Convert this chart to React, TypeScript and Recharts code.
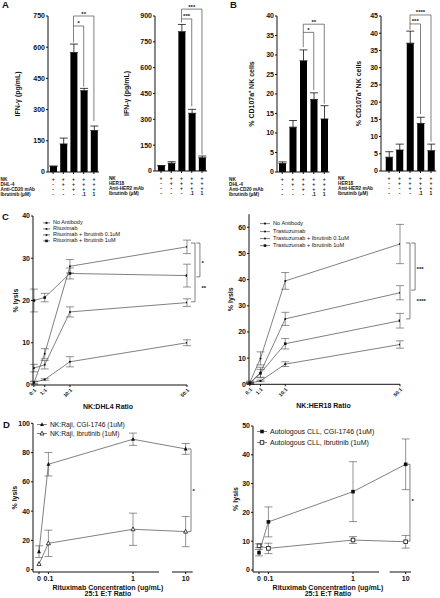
import React from 'react';
import {
  Bar,
  BarChart,
  ErrorBar,
  Legend,
  Line,
  LineChart,
  ReferenceDot,
  ReferenceLine,
  XAxis,
  YAxis,
} from 'recharts';

const FONT = '"Liberation Sans", Arial, Helvetica, sans-serif';
const INK = '#111';
const GREY = '#4a4a4a';

// ---- A / B: five conditions per bar panel
const barCats = ['1', '2', '3', '4', '5'];
const dhl4Rows = ['NK', 'DHL-4', 'Anti-CD20 mAb', 'Ibrutinib (\u03bcM)'];
const her18Rows = ['NK', 'HER18', 'Anti-HER2 mAb', 'Ibrutinib (\u03bcM)'];
const nkCells = ['+', '+', '+', '+', '+'];
const targetCells = ['-', '+', '+', '+', '+'];
const mabCells = ['-', '-', '+', '+', '+'];
const ibrutinibCells = ['-', '-', '-', '.1', '1'];

const ifnTitle = 'IFN-\u03b3 (pg/mL)';
const cd107Title = '% CD107a\u207a NK cells';

const ifnDhl4 = [28, 135, 574, 391, 199];
const ifnDhl4Err = [0, 28, 41, 11, 22];
const ifnHer18 = [31, 45, 809, 335, 77];
const ifnHer18Err = [0, 9, 42, 23, 10];
const cd107Dhl4 = [2.2, 11.5, 28.5, 18.6, 13.6];
const cd107Dhl4Err = [0.4, 1.7, 2.8, 1.7, 3.4];
const cd107Her18 = [4.0, 6.1, 37.1, 13.8, 5.9];
const cd107Her18Err = [1.6, 1.7, 3.5, 1.8, 1.9];

const ifnDhl4Ticks = [0, 150, 300, 450, 600, 750];
const ifnHer18Ticks = [0, 150, 300, 450, 600, 750, 900];
const cd107Dhl4Ticks = [0, 5, 10, 15, 20, 25, 30, 35, 40];
const cd107Her18Ticks = [0, 5, 10, 15, 20, 25, 30, 35, 40, 45];

type Sig = { a: number; b: number; top: number; lowA: number; lowB: number; mark: string };

const sigIfnDhl4: Sig[] = [
  { a: 2, b: 3, top: 702, lowA: 622, lowB: 410, mark: '*' },
  { a: 2, b: 4, top: 750, lowA: 702, lowB: 245, mark: '**' },
];
const sigIfnHer18: Sig[] = [
  { a: 2, b: 3, top: 883, lowA: 862, lowB: 375, mark: '***' },
  { a: 2, b: 4, top: 940, lowA: 883, lowB: 95, mark: '***' },
];
const sigCd107Dhl4: Sig[] = [
  { a: 2, b: 3, top: 35.8, lowA: 32, lowB: 21, mark: '*' },
  { a: 2, b: 4, top: 37.9, lowA: 35.8, lowB: 17.5, mark: '**' },
];
const sigCd107Her18: Sig[] = [
  { a: 2, b: 3, top: 42.7, lowA: 41, lowB: 16.5, mark: '***' },
  { a: 2, b: 4, top: 45.3, lowA: 42.7, lowB: 8.5, mark: '****' },
];

// ---- C: lysis vs E:T ratio
const ratioX = [0.3, 3.8, 12, 50];
const ratioLabels = ['0:1', '1:1', '10:1', '50:1'];

const dhl4NoAb = [0.6, 1.3, 5.5, 10.0];
const dhl4NoAbErr = [0.3, 0.2, 1.2, 0.7];
const dhl4Ritux = [0.5, 7.4, 28.1, 32.7];
const dhl4RituxErr = [0.3, 1.2, 1.6, 1.6];
const dhl4Ibr01 = [4.0, 4.8, 17.3, 19.5];
const dhl4Ibr01Err = [0.9, 1.0, 1.2, 0.9];
const dhl4Ibr1 = [20.0, 20.7, 26.4, 25.9];
const dhl4Ibr1Err = [2.7, 1.0, 1.3, 2.7];

const her18NoAb = [0.5, 1.3, 7.7, 15.2];
const her18NoAbErr = [0.2, 0.3, 0.9, 1.4];
const her18Trast = [0.8, 9.9, 39.5, 53.6];
const her18TrastErr = [0.4, 2.5, 3.2, 7.5];
const her18Ibr01 = [0.5, 4.5, 25.0, 35.0];
const her18Ibr01Err = [0.3, 2.0, 2.5, 2.7];
const her18Ibr1 = [0.4, 4.2, 15.5, 24.3];
const her18Ibr1Err = [0.3, 1.5, 2.0, 2.8];

// ---- D: lysis vs rituximab concentration
const concs = [0, 0.1, 1, 10];
const concLabels = ['0', '0.1', '1', '10'];
const rajiCgi = [12.3, 72.0, 89.1, 82.5];
const rajiCgiErr = [4.0, 8.0, 4.2, 3.7];
const rajiIbr = [3.9, 18.0, 27.6, 26.0];
const rajiIbrErr = [0, 9.0, 11.0, 10.3];
const cllCgi = [6.0, 16.7, 27.2, 36.7];
const cllCgiErr = [1.1, 5.2, 10.4, 8.8];
const cllIbr = [8.4, 7.5, 10.4, 9.8];
const cllIbrErr = [0.7, 1.8, 1.2, 2.2];

// broken x axis: 0..1 linear, 10 sits just past the break
const brk = (c: number) => (c <= 1.2 ? c : 1.56 + (c - 10) * 0.02);

const tickStyle = { fontSize: 7, fontWeight: 700, fill: INK, fontFamily: FONT };

const sideTitle = (text: string, cx: number) => (p: any) => {
  const vb = p.viewBox;
  const cy = vb.y + vb.height / 2;
  return (
    <text
      x={cx}
      y={cy}
      transform={`rotate(-90 ${cx} ${cy})`}
      textAnchor="middle"
      dominantBaseline="central"
      fontSize={7}
      fontWeight={700}
      fontFamily={FONT}
      fill={INK}
    >
      {text}
    </text>
  );
};

const bottomTitle = (lines: string[], first: number, step: number, dx: number) => (p: any) => {
  const vb = p.viewBox;
  const cx = vb.x + vb.width / 2 + dx;
  return (
    <text x={cx} y={vb.y + first} textAnchor="middle" fontSize={7} fontWeight={700} fontFamily={FONT} fill={INK}>
      {lines.map((l, i) => (
        <tspan key={i} x={cx} dy={i === 0 ? 0 : step}>
          {l}
        </tspan>
      ))}
    </text>
  );
};

function Marker({ kind, cx, cy, s }: { kind: string; cx: number; cy: number; s: number }) {
  if (cx == null || cy == null) return null;
  if (kind === 'square') return <rect x={cx - s} y={cy - s} width={2 * s} height={2 * s} fill={INK} />;
  if (kind === 'squareOpen')
    return <rect x={cx - s} y={cy - s} width={2 * s} height={2 * s} fill="#fff" stroke={INK} strokeWidth={0.8} />;
  const pts = `${cx},${cy - s * 1.15} ${cx - s},${cy + s * 0.75} ${cx + s},${cy + s * 0.75}`;
  if (kind === 'tri') return <polygon points={pts} fill={INK} />;
  if (kind === 'triOpen') return <polygon points={pts} fill="#fff" stroke={INK} strokeWidth={0.8} />;
  return <circle cx={cx} cy={cy} r={s} fill={INK} />;
}

function BarPanel(props: {
  left: number;
  axisX: number;
  bandL: number;
  bandR: number;
  yTop: number;
  yBottom: number;
  max: number;
  values: number[];
  errs: number[];
  ticks: number[];
  rows: string[];
  rowX: number;
  title: string;
  titleX: number;
  sig: Sig[];
}) {
  const { left, axisX, bandL, bandR, yTop, yBottom, max, values, errs, ticks, rows, rowX, title, titleX, sig } = props;
  const height = 200;
  const width = bandR - left + 4;
  const data = barCats.map((c, i) => ({ c, v: values[i], e: [0, errs[i]] }));
  const cells = [nkCells, targetCells, mabCells, ibrutinibCells];

  const tableTick = (p: any) => (
    <g key={`t${p.index}`}>
      {cells.map((row, r) => (
        <text
          key={r}
          x={p.x}
          y={p.y + 5 + r * 5}
          textAnchor="middle"
          fontSize={5}
          fontWeight={700}
          fontFamily={FONT}
          fill={INK}
        >
          {row[p.index]}
        </text>
      ))}
      {p.index === 0 &&
        rows.map((name, r) => (
          <text key={`n${r}`} x={rowX - left} y={p.y + 5 + r * 5} fontSize={4.7} fontWeight={700} fontFamily={FONT} fill={INK}>
            {name}
          </text>
        ))}
    </g>
  );

  return (
    <div style={{ position: 'absolute', left, top: 0 }}>
      <BarChart width={width} height={height} data={data} margin={{ top: yTop, right: 4, bottom: 0, left: 0 }}>
        <XAxis
          dataKey="c"
          height={height - yBottom}
          padding={{ left: Math.max(0, bandL - axisX), right: 0 }}
          interval={0}
          tickSize={2}
          axisLine={{ stroke: INK, strokeWidth: 1 }}
          tickLine={{ stroke: INK }}
          tick={tableTick}
        />
        <YAxis
          width={axisX - left}
          domain={[0, max]}
          ticks={ticks}
          allowDataOverflow
          interval={0}
          tickSize={2}
          tickMargin={1}
          axisLine={{ stroke: INK, strokeWidth: 1 }}
          tickLine={{ stroke: INK }}
          tick={tickStyle}
          label={sideTitle(title, titleX - left)}
        />
        <Bar dataKey="v" fill="#000" barSize={7} isAnimationActive={false}>
          <ErrorBar dataKey="e" width={4} stroke={INK} strokeWidth={0.8} direction="y" />
        </Bar>
        {sig.flatMap((s, i) => [
          <ReferenceLine
            key={`sa${i}`}
            segment={[{ x: barCats[s.a], y: s.lowA }, { x: barCats[s.a], y: s.top }]}
            stroke={GREY}
            strokeWidth={0.7}
            ifOverflow="visible"
          />,
          <ReferenceLine
            key={`sh${i}`}
            segment={[{ x: barCats[s.a], y: s.top }, { x: barCats[s.b], y: s.top }]}
            stroke={GREY}
            strokeWidth={0.7}
            ifOverflow="visible"
            label={{ value: s.mark, position: 'top', offset: 0.5, fontSize: 6, fontWeight: 700, fill: INK, fontFamily: FONT }}
          />,
          <ReferenceLine
            key={`sb${i}`}
            segment={[{ x: barCats[s.b], y: s.top }, { x: barCats[s.b], y: s.lowB }]}
            stroke={GREY}
            strokeWidth={0.7}
            ifOverflow="visible"
          />,
        ])}
      </BarChart>
    </div>
  );
}

type Series = { key: string; name: string; values: number[]; errs: number[]; marker: string; size: number };
type Bracket = { xIn: number; xOut: number; top: number; bottom: number; mark: string; labelX: number; labelY: number };

function LegendBox({ series, row, font, line }: { series: Series[]; row: number; font: number; line: number }) {
  return (
    <div style={{ fontFamily: FONT, fontSize: font, color: INK, lineHeight: `${row}px` }}>
      {series.map((s) => (
        <div key={s.key} style={{ display: 'flex', alignItems: 'center', height: row, whiteSpace: 'nowrap' }}>
          <svg width={line + 3} height={row} style={{ display: 'block' }}>
            <line x1={0} x2={line} y1={row / 2} y2={row / 2} stroke={GREY} strokeWidth={0.7} />
            <Marker kind={s.marker} cx={line / 2} cy={row / 2} s={s.size} />
          </svg>
          <span style={{ color: INK }}>{s.name}</span>
        </div>
      ))}
    </div>
  );
}

function LinePanel(props: {
  left: number;
  top: number;
  width: number;
  height: number;
  axisX: number;
  plotRight: number;
  plotTop: number;
  plotBottom: number;
  xs: number[];
  xLabels: string[];
  xDomain: [number, number];
  angled: boolean;
  yDomain: [number, number];
  yTicks: number[];
  series: Series[];
  brackets: Bracket[];
  legendX: number;
  legendY: number;
  legendRow: number;
  legendFont: number;
  legendLine: number;
  xTitle: string[];
  xTitleFirst: number;
  xTitleStep: number;
  xTitleDx: number;
  yTitleX: number;
  axisBreak?: [number, number];
}) {
  const p = props;
  const data = p.xs.map((x, i) => {
    const row: Record<string, number> = { x };
    p.series.forEach((s) => {
      row[s.key] = s.values[i];
      row[`${s.key}E`] = s.errs[i];
    });
    return row;
  });
  const y0 = p.yDomain[0];
  const seg = (key: string, a: [number, number], b: [number, number], color = GREY, w = 0.7) => (
    <ReferenceLine
      key={key}
      segment={[{ x: a[0], y: a[1] }, { x: b[0], y: b[1] }]}
      stroke={color}
      strokeWidth={w}
      ifOverflow="visible"
    />
  );

  return (
    <div style={{ position: 'absolute', left: p.left, top: p.top }}>
      <LineChart
        width={p.width}
        height={p.height}
        data={data}
        margin={{ top: p.plotTop - p.top, right: p.left + p.width - p.plotRight, bottom: 0, left: 0 }}
      >
        <XAxis
          type="number"
          dataKey="x"
          domain={p.xDomain}
          allowDataOverflow
          ticks={p.xs}
          interval={0}
          tickFormatter={(v: number) => p.xLabels[p.xs.indexOf(v)] ?? ''}
          height={p.top + p.height - p.plotBottom}
          tickSize={2}
          tickMargin={p.angled ? 1 : 2}
          angle={p.angled ? -45 : 0}
          textAnchor={p.angled ? 'end' : 'middle'}
          axisLine={p.axisBreak ? false : { stroke: INK, strokeWidth: 1 }}
          tickLine={{ stroke: INK }}
          tick={{ ...tickStyle, fontSize: p.angled ? 5 : 7 }}
          label={bottomTitle(p.xTitle, p.xTitleFirst, p.xTitleStep, p.xTitleDx)}
        />
        <YAxis
          type="number"
          width={p.axisX - p.left}
          domain={p.yDomain}
          ticks={p.yTicks}
          allowDataOverflow
          interval={0}
          tickSize={2}
          tickMargin={1}
          axisLine={{ stroke: INK, strokeWidth: 1 }}
          tickLine={{ stroke: INK }}
          tick={tickStyle}
          label={sideTitle('% lysis', p.yTitleX - p.left)}
        />
        <Legend
          layout="horizontal"
          verticalAlign="middle"
          align="center"
          wrapperStyle={{ left: p.legendX - p.left, top: p.legendY - p.top, width: 'auto' }}
          content={() => <LegendBox series={p.series} row={p.legendRow} font={p.legendFont} line={p.legendLine} />}
        />
        {p.axisBreak && [
          seg('ax1', [p.xDomain[0], y0], [p.axisBreak[0], y0], INK, 1),
          seg('ax2', [p.axisBreak[1], y0], [p.xDomain[1], y0], INK, 1),
        ]}
        {p.brackets.flatMap((b, i) => [
          seg(`bt${i}`, [b.xIn, b.top], [b.xOut, b.top]),
          seg(`bv${i}`, [b.xOut, b.top], [b.xOut, b.bottom]),
          seg(`bb${i}`, [b.xIn, b.bottom], [b.xOut, b.bottom]),
          <ReferenceDot
            key={`bl${i}`}
            x={b.labelX}
            y={b.labelY}
            r={0}
            ifOverflow="visible"
            label={{ value: b.mark, position: 'right', offset: 1.5, fontSize: 6, fontWeight: 700, fill: INK, fontFamily: FONT }}
          />,
        ])}
        {p.series.map((s) => (
          <Line
            key={s.key}
            dataKey={s.key}
            name={s.name}
            stroke={GREY}
            strokeWidth={0.7}
            isAnimationActive={false}
            activeDot={false}
            dot={(d: any) => <Marker key={`${s.key}${d.index}`} kind={s.marker} cx={d.cx} cy={d.cy} s={s.size} />}
          >
            <ErrorBar dataKey={`${s.key}E`} width={4} stroke={GREY} strokeWidth={0.6} direction="y" />
          </Line>
        ))}
      </LineChart>
    </div>
  );
}

const letterStyle = (left: number, top: number): React.CSSProperties => ({
  position: 'absolute',
  left,
  top,
  fontFamily: FONT,
  fontWeight: 700,
  fontSize: 9.5,
  lineHeight: '10px',
  color: INK,
});

export default function App() {
  const dhl4Series: Series[] = [
    { key: 'noAb', name: 'No Antibody', values: dhl4NoAb, errs: dhl4NoAbErr, marker: 'dot', size: 1.1 },
    { key: 'ritux', name: 'Rituximab', values: dhl4Ritux, errs: dhl4RituxErr, marker: 'dot', size: 1.0 },
    { key: 'ibr01', name: 'Rituximab + Ibrutinib 0.1uM', values: dhl4Ibr01, errs: dhl4Ibr01Err, marker: 'dot', size: 1.0 },
    { key: 'ibr1', name: 'Rituximab + Ibrutinib 1uM', values: dhl4Ibr1, errs: dhl4Ibr1Err, marker: 'square', size: 1.3 },
  ];
  const her18Series: Series[] = [
    { key: 'noAb', name: 'No Antibody', values: her18NoAb, errs: her18NoAbErr, marker: 'dot', size: 1.1 },
    { key: 'trast', name: 'Trastuzumab', values: her18Trast, errs: her18TrastErr, marker: 'dot', size: 1.0 },
    { key: 'ibr01', name: 'Trastuzumab + Ibrutinib 0.1uM', values: her18Ibr01, errs: her18Ibr01Err, marker: 'dot', size: 1.0 },
    { key: 'ibr1', name: 'Trastuzumab + Ibrutinib 1uM', values: her18Ibr1, errs: her18Ibr1Err, marker: 'square', size: 1.3 },
  ];
  const rajiSeries: Series[] = [
    { key: 'cgi', name: 'NK:Raji, CGI-1746 (1uM)', values: rajiCgi, errs: rajiCgiErr, marker: 'tri', size: 2 },
    { key: 'ibr', name: 'NK:Raji, Ibrutinib (1uM)', values: rajiIbr, errs: rajiIbrErr, marker: 'triOpen', size: 2 },
  ];
  const cllSeries: Series[] = [
    { key: 'cgi', name: 'Autologous CLL, CGI-1746 (1uM)', values: cllCgi, errs: cllCgiErr, marker: 'square', size: 1.8 },
    { key: 'ibr', name: 'Autologous CLL, Ibrutinib (1uM)', values: cllIbr, errs: cllIbrErr, marker: 'squareOpen', size: 1.8 },
  ];
  const concPos = concs.map(brk);
  const dTitle = ['Rituximab Concentration (ug/mL)', '25:1 E:T Ratio'];

  return (
    <div style={{ position: 'absolute', left: 0, top: 0, width: 440, height: 598, background: '#fff', overflow: 'hidden' }}>
      <BarPanel
        left={0}
        axisX={48}
        bandL={48}
        bandR={99}
        yTop={16}
        yBottom={172}
        max={750}
        values={ifnDhl4}
        errs={ifnDhl4Err}
        ticks={ifnDhl4Ticks}
        rows={dhl4Rows}
        rowX={0.5}
        title={ifnTitle}
        titleX={17}
        sig={sigIfnDhl4}
      />
      <BarPanel
        left={108}
        axisX={155}
        bandL={155.9}
        bandR={207.1}
        yTop={16}
        yBottom={171}
        max={900}
        values={ifnHer18}
        errs={ifnHer18Err}
        ticks={ifnHer18Ticks}
        rows={her18Rows}
        rowX={109}
        title={ifnTitle}
        titleX={127}
        sig={sigIfnHer18}
      />
      <BarPanel
        left={228}
        axisX={277}
        bandL={277}
        bandR={329.5}
        yTop={16}
        yBottom={172}
        max={40}
        values={cd107Dhl4}
        errs={cd107Dhl4Err}
        ticks={cd107Dhl4Ticks}
        rows={dhl4Rows}
        rowX={229}
        title={cd107Title}
        titleX={251}
        sig={sigCd107Dhl4}
      />
      <BarPanel
        left={337}
        axisX={381}
        bandL={383.75}
        bandR={436.25}
        yTop={16}
        yBottom={171}
        max={45}
        values={cd107Her18}
        errs={cd107Her18Err}
        ticks={cd107Her18Ticks}
        rows={her18Rows}
        rowX={338}
        title={cd107Title}
        titleX={358}
        sig={sigCd107Her18}
      />

      <LinePanel
        left={0}
        top={205}
        width={215}
        height={205}
        axisX={33}
        plotRight={187}
        plotTop={216}
        plotBottom={385}
        xs={ratioX}
        xLabels={ratioLabels}
        xDomain={[0, 50]}
        angled
        yDomain={[0, 40]}
        yTicks={[0, 10, 20, 30, 40]}
        series={dhl4Series}
        brackets={[
          { xIn: 51.3, xOut: 52.6, top: 33.6, bottom: 19.7, mark: '**', labelX: 54.2, labelY: 23 },
          { xIn: 53.0, xOut: 54.2, top: 33.6, bottom: 25.6, mark: '*', labelX: 54.2, labelY: 29 },
        ]}
        legendX={43}
        legendY={220.4}
        legendRow={5.8}
        legendFont={5.5}
        legendLine={7}
        xTitle={['NK:DHL4 Ratio']}
        xTitleFirst={23.5}
        xTitleStep={0}
        xTitleDx={-2}
        yTitleX={15}
      />
      <LinePanel
        left={220}
        top={205}
        width={220}
        height={205}
        axisX={249}
        plotRight={400}
        plotTop={214.2}
        plotBottom={384.3}
        xs={ratioX}
        xLabels={ratioLabels}
        xDomain={[0, 50]}
        angled
        yDomain={[0, 65]}
        yTicks={[0, 10, 20, 30, 40, 50, 60]}
        series={her18Series}
        brackets={[
          { xIn: 52.0, xOut: 53.3, top: 54, bottom: 25, mark: '****', labelX: 55, labelY: 32 },
          { xIn: 53.7, xOut: 55, top: 54, bottom: 36, mark: '***', labelX: 55, labelY: 44 },
        ]}
        legendX={260}
        legendY={220.4}
        legendRow={7.2}
        legendFont={5.6}
        legendLine={10}
        xTitle={['NK:HER18 Ratio']}
        xTitleFirst={24}
        xTitleStep={0}
        xTitleDx={-1}
        yTitleX={230}
      />

      <LinePanel
        left={0}
        top={415}
        width={210}
        height={183}
        axisX={33}
        plotRight={192.7}
        plotTop={423.3}
        plotBottom={572}
        xs={concPos}
        xLabels={concLabels}
        xDomain={[-0.064, 1.635]}
        angled={false}
        yDomain={[-1.6, 100]}
        yTicks={[0, 20, 40, 60, 80, 100]}
        series={rajiSeries}
        brackets={[{ xIn: 1.58, xOut: 1.617, top: 82.5, bottom: 26, mark: '*', labelX: 1.617, labelY: 54 }]}
        legendX={37}
        legendY={419.5}
        legendRow={9}
        legendFont={6.7}
        legendLine={10}
        xTitle={dTitle}
        xTitleFirst={17.5}
        xTitleStep={6.5}
        xTitleDx={-5}
        yTitleX={15}
        axisBreak={[1.277, 1.415]}
      />
      <LinePanel
        left={220}
        top={415}
        width={220}
        height={183}
        axisX={253}
        plotRight={411}
        plotTop={426}
        plotBottom={572}
        xs={concPos}
        xLabels={concLabels}
        xDomain={[-0.064, 1.617]}
        angled={false}
        yDomain={[-0.7, 50]}
        yTicks={[0, 10, 20, 30, 40, 50]}
        series={cllSeries}
        brackets={[{ xIn: 1.575, xOut: 1.606, top: 36.7, bottom: 10, mark: '*', labelX: 1.606, labelY: 24 }]}
        legendX={257}
        legendY={425.5}
        legendRow={11}
        legendFont={7}
        legendLine={10}
        xTitle={dTitle}
        xTitleFirst={17.5}
        xTitleStep={6.5}
        xTitleDx={-4}
        yTitleX={235}
        axisBreak={[1.277, 1.39]}
      />

      <div style={letterStyle(2, 0)}>A</div>
      <div style={letterStyle(230, 0)}>B</div>
      <div style={letterStyle(2, 212)}>C</div>
      <div style={letterStyle(3, 420)}>D</div>
    </div>
  );
}
